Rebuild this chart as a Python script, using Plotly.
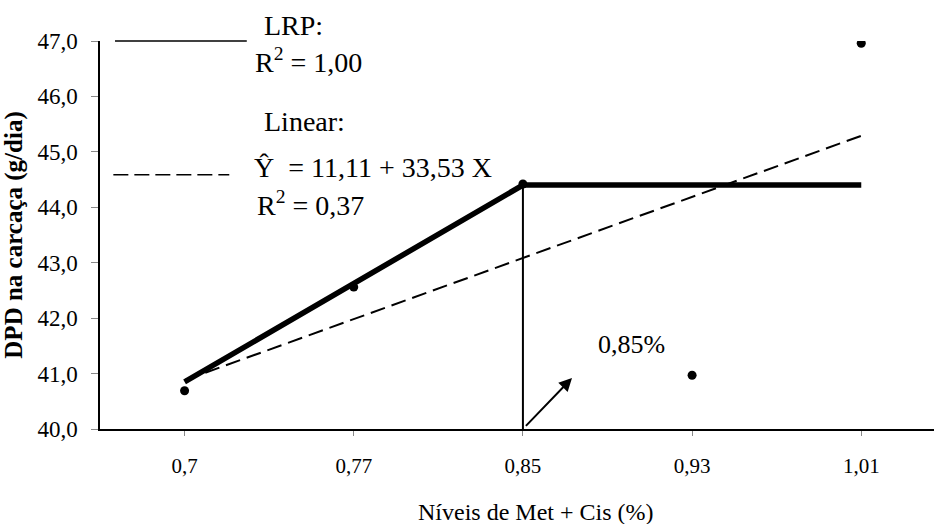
import plotly.graph_objects as go

# ---- data ----
niveis = ["0,7", "0,77", "0,85", "0,93", "1,01"]
dpd_obs = [40.69, 42.56, 44.42, 40.97, 46.96]

lrp_x = ["0,7", "0,85", "1,01"]
lrp_y = [40.85, 44.40, 44.40]

lin_x = ["0,7", "1,01"]
lin_y = [40.88, 45.29]

break_x = ["0,85", "0,85"]
break_y = [40.0, 44.40]

y_ticks = [40, 41, 42, 43, 44, 45, 46, 47]

FONT = "Liberation Serif"

fig = go.Figure()

fig.add_trace(go.Scatter(x=niveis, y=dpd_obs, mode="markers",
                         marker=dict(color="black", size=9),
                         showlegend=False))
fig.add_trace(go.Scatter(x=lin_x, y=lin_y, mode="lines",
                         line=dict(color="black", width=2, dash="15px,7px"),
                         showlegend=False, hoverinfo="skip"))
fig.add_trace(go.Scatter(x=break_x, y=break_y, mode="lines",
                         line=dict(color="black", width=2),
                         showlegend=False, hoverinfo="skip"))
fig.add_trace(go.Scatter(x=lrp_x, y=lrp_y, mode="lines",
                         line=dict(color="black", width=5.5),
                         showlegend=False, hoverinfo="skip"))

# legend-like keys (paper coordinates)
fig.add_shape(type="line", xref="paper", yref="paper",
              x0=0.018, x1=0.176, y0=1.0, y1=1.0,
              line=dict(color="black", width=1.5))
fig.add_shape(type="line", xref="paper", yref="paper",
              x0=0.016, x1=0.155, y0=0.655, y1=0.655,
              line=dict(color="black", width=1.5, dash="15px,6px"))

leg_font = dict(family=FONT, size=28, color="black")
for txt, xp, yp in [
    ("LRP:", 0.194, 1.041),
    ("R<sup>2</sup> = 1,00", 0.183, 0.951),
    ("Linear:", 0.194, 0.792),
    ("Ŷ  = 11,11 + 33,53 X", 0.182, 0.673),
    ("R<sup>2</sup> = 0,37", 0.186, 0.582),
]:
    fig.add_annotation(text=txt, xref="paper", yref="paper", x=xp, y=yp,
                       xanchor="left", yanchor="middle", showarrow=False,
                       font=leg_font)

# arrow pointing to the break point
fig.add_annotation(x=2.29, y=40.92, ax=2.0, ay=40.0, xref="x", yref="y",
                   axref="x", ayref="y", text=" ", showarrow=True,
                   arrowhead=2, arrowsize=1.3, arrowwidth=2, arrowcolor="black",
                   font=dict(family=FONT, size=10))
fig.add_annotation(x=2.64, y=41.52, xref="x", yref="y", text="0,85%",
                   showarrow=False, font=dict(family=FONT, size=26, color="black"))

# x axis title as annotation (offset like the reference)
fig.add_annotation(text="Níveis de Met + Cis (%)", xref="paper", yref="paper",
                   x=(536 - 100) / 834, y=(429 - 512) / 388,
                   xanchor="center", yanchor="middle", showarrow=False,
                   font=dict(family=FONT, size=24, color="black"))

fig.update_layout(
    width=934, height=524,
    margin=dict(l=100, r=0, t=41, b=95),
    paper_bgcolor="white", plot_bgcolor="white",
    separators=",.",
    font=dict(family=FONT, size=20, color="black"),
    showlegend=False,
)
fig.update_xaxes(type="category", categoryorder="array", categoryarray=niveis,
                 range=[-0.5, 4.43],
                 showline=True, linecolor="black", linewidth=1.5,
                 ticks="outside", ticklen=5, tickcolor="#888888", tickwidth=1,
                 showgrid=False, zeroline=False,
                 tickfont=dict(family=FONT, size=21, color="black"),
                 ticklabelstandoff=12)
fig.update_yaxes(range=[40, 47], tickvals=y_ticks, tickformat=".1f",
                 showline=True, linecolor="black", linewidth=1.5,
                 ticks="outside", ticklen=7, tickcolor="#888888", tickwidth=1,
                 showgrid=False, zeroline=False,
                 tickfont=dict(family=FONT, size=23, color="black"),
                 ticklabelstandoff=9,
                 title=dict(text="<b>DPD na carcaça (g/dia)</b>", standoff=14,
                            font=dict(family=FONT, size=25, color="black")))

fig.write_html("out.html", config={"displayModeBar": False},
               post_script="document.body.style.margin='0';document.body.style.overflow='hidden';")
